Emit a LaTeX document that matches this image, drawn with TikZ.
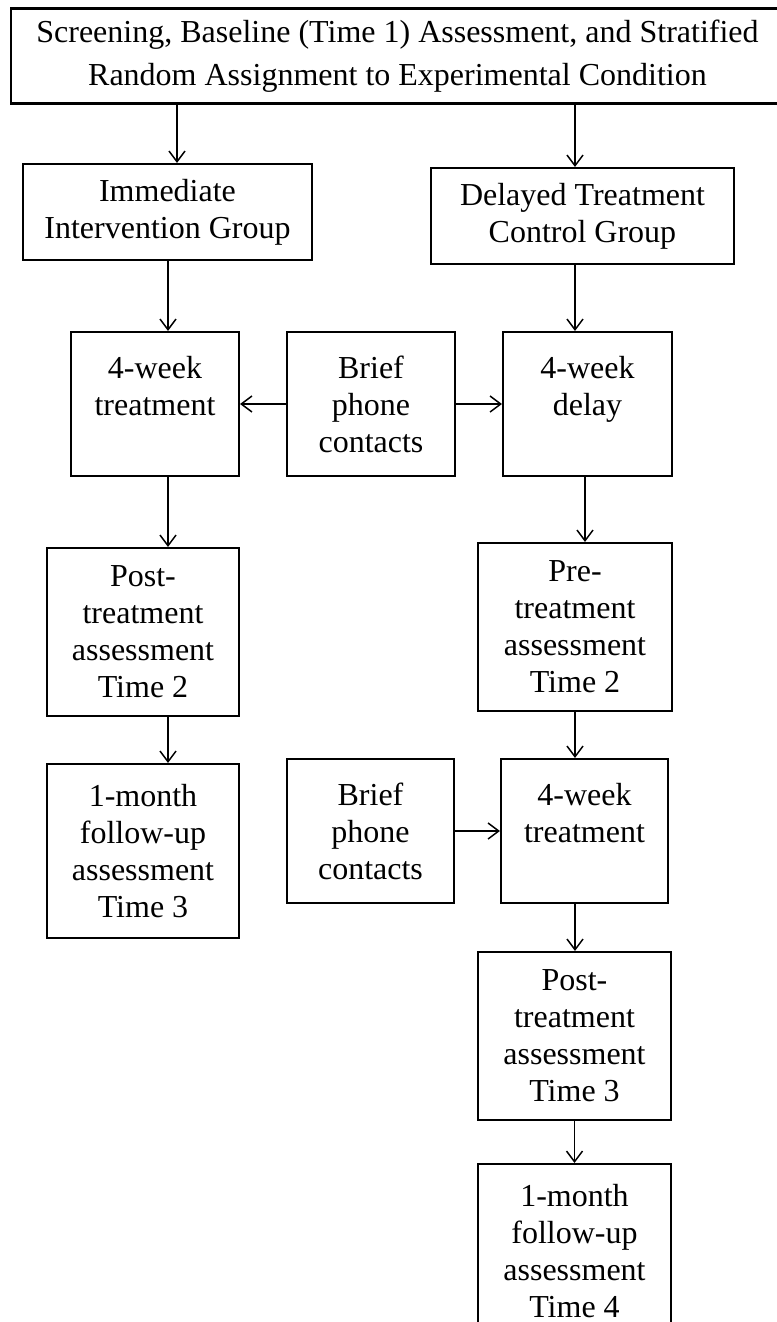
\documentclass[tikz,border=0pt]{standalone}
\usepackage{fontspec}
\setmainfont{Liberation Serif}
\usepackage{tikz}
\usetikzlibrary{positioning,calc,arrows.meta}

\begin{document}
\begin{tikzpicture}[x=0.75pt,y=-0.75pt,
    box/.style={draw, line width=1.6pt, align=center, inner sep=0pt,
        font=\fontsize{24pt}{27.75pt}\selectfont},
    arr/.style={-{Straight Barb[length=8pt,width=12pt]}, line width=1.1pt}]
    \clip (0,0) rectangle (777,1322);

    % Screening and assignment
    \node[box, minimum width=579.75pt, minimum height=71.25pt,
        font=\fontsize{24pt}{32pt}\selectfont] (screen) at (397.5,56)
        {Screening, Baseline (Time 1) Assessment, and Stratified\\Random Assignment to Experimental Condition};

    % Groups
    \node[box, minimum width=216.75pt, minimum height=72pt] (imm) at (167.5,212) {Immediate\\Intervention Group};
    \node[box, minimum width=227.25pt, minimum height=72pt] (del) at (582.5,216) {Delayed Treatment\\Control Group};

    % First 4 weeks
    \node[box, minimum width=126pt, minimum height=108pt] (wk1) at (155,404) {4-week\\treatment\\~};
    \node[box, minimum width=126pt, minimum height=108pt] (brf1) at (371,404) {Brief\\phone\\contacts};
    \node[box, minimum width=126.75pt, minimum height=108pt] (dly) at (587.5,404) {4-week\\delay\\~};

    % Time 2
    \node[box, minimum width=144pt, minimum height=126pt] (post1) at (143,632) {Post-\\treatment\\assessment\\Time 2};
    \node[box, minimum width=145.5pt, minimum height=126pt] (pre) at (575,627) {Pre-\\treatment\\assessment\\Time 2};

    % Follow-up and delayed treatment
    \node[box, minimum width=144pt, minimum height=130.5pt] (fu1) at (143,851) {1-month\\follow-up\\assessment\\Time 3};
    \node[box, minimum width=125.25pt, minimum height=108pt] (brf2) at (370.5,831) {Brief\\phone\\contacts};
    \node[box, minimum width=125.25pt, minimum height=108pt] (wk2) at (584.5,831) {4-week\\treatment\\~};

    % Delayed group assessments
    \node[box, minimum width=144.75pt, minimum height=126pt] (post2) at (574.5,1036) {Post-\\treatment\\assessment\\Time 3};
    \node[box, minimum width=144.75pt, minimum height=130.5pt] (fu2) at (574.5,1251) {1-month\\follow-up\\assessment\\Time 4};

    % Columns for the arrows
    \coordinate (ltop) at (177,0);
    \coordinate (lcol) at (168,0);
    \coordinate (rcol) at (575,0);
    \coordinate (rdly) at (585,0);

    % Arrows
    \draw[arr] (screen.south -| ltop) -- (imm.north -| ltop);
    \draw[arr] (screen.south -| rcol) -- (del.north -| rcol);
    \draw[arr] (imm.south -| lcol) -- (wk1.north -| lcol);
    \draw[arr] (del.south -| rcol) -- (dly.north -| rcol);
    \draw[arr] (brf1.west) -- (wk1.east);
    \draw[arr] (brf1.east) -- (dly.west);
    \draw[arr] (wk1.south -| lcol) -- (post1.north -| lcol);
    \draw[arr] (dly.south -| rdly) -- (pre.north -| rdly);
    \draw[arr] (post1.south -| lcol) -- (fu1.north -| lcol);
    \draw[arr] (pre.south) -- (pre.south |- wk2.north);
    \draw[arr] (brf2.east) -- (wk2.west);
    \draw[arr] (wk2.south -| rcol) -- (post2.north -| rcol);
    \draw[arr] (post2.south) -- (fu2.north);
\end{tikzpicture}
\end{document}
